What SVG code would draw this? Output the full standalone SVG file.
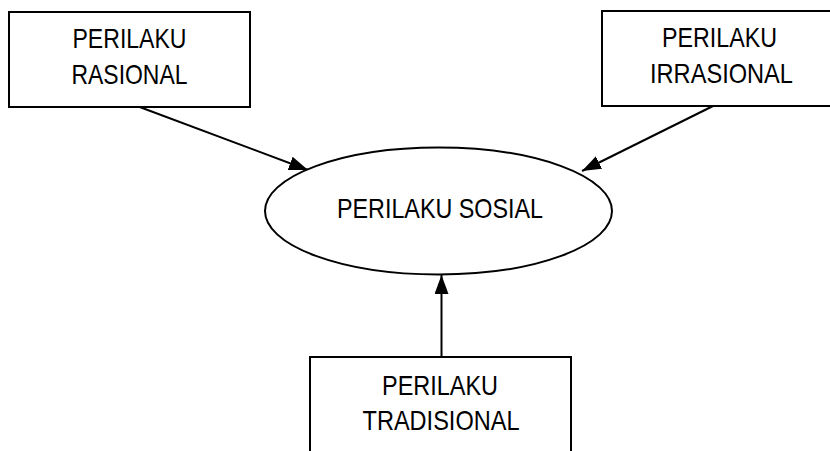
<svg xmlns="http://www.w3.org/2000/svg" width="830" height="451" viewBox="0 0 830 451">
<style>
.box{fill:#fff;stroke:#000;stroke-width:2}
.lbl{font-family:"Liberation Sans",Arial,sans-serif;font-size:28px;fill:#000;text-anchor:middle}
.conn{stroke:#000;stroke-width:2;fill:none}
</style>
<defs>
<marker id="ah" markerUnits="userSpaceOnUse" markerWidth="19" markerHeight="14" refX="19" refY="7" orient="auto">
<path d="M0,0 L19,7 L0,14 z" fill="#000"/>
</marker>
</defs>
<rect width="830" height="451" fill="#fff"/>
<g id="connectors">
<line class="conn" x1="137" y1="106" x2="308" y2="170" marker-end="url(#ah)"/>
<line class="conn" x1="713" y1="106" x2="582" y2="171" marker-end="url(#ah)"/>
<line class="conn" x1="441.5" y1="357" x2="441.5" y2="275" marker-end="url(#ah)"/>
</g>
<g id="rasional">
<rect class="box" x="9" y="12" width="241" height="95"/>
<text class="lbl" x="129.5" y="48" textLength="114" lengthAdjust="spacingAndGlyphs">PERILAKU</text>
<text class="lbl" x="129.5" y="84" textLength="116" lengthAdjust="spacingAndGlyphs">RASIONAL</text>
</g>
<g id="irrasional">
<rect class="box" x="602" y="11" width="240" height="95"/>
<text class="lbl" x="719.5" y="47" textLength="115" lengthAdjust="spacingAndGlyphs">PERILAKU</text>
<text class="lbl" x="721.5" y="83" textLength="143" lengthAdjust="spacingAndGlyphs">IRRASIONAL</text>
</g>
<g id="sosial">
<ellipse class="box" cx="438.5" cy="211" rx="173.5" ry="63.5"/>
<text class="lbl" x="440" y="218" textLength="206" lengthAdjust="spacingAndGlyphs">PERILAKU SOSIAL</text>
</g>
<g id="tradisional">
<rect class="box" x="310" y="357" width="261" height="110"/>
<text class="lbl" x="440" y="395" textLength="116" lengthAdjust="spacingAndGlyphs">PERILAKU</text>
<text class="lbl" x="441" y="430" textLength="157" lengthAdjust="spacingAndGlyphs">TRADISIONAL</text>
</g>
</svg>
